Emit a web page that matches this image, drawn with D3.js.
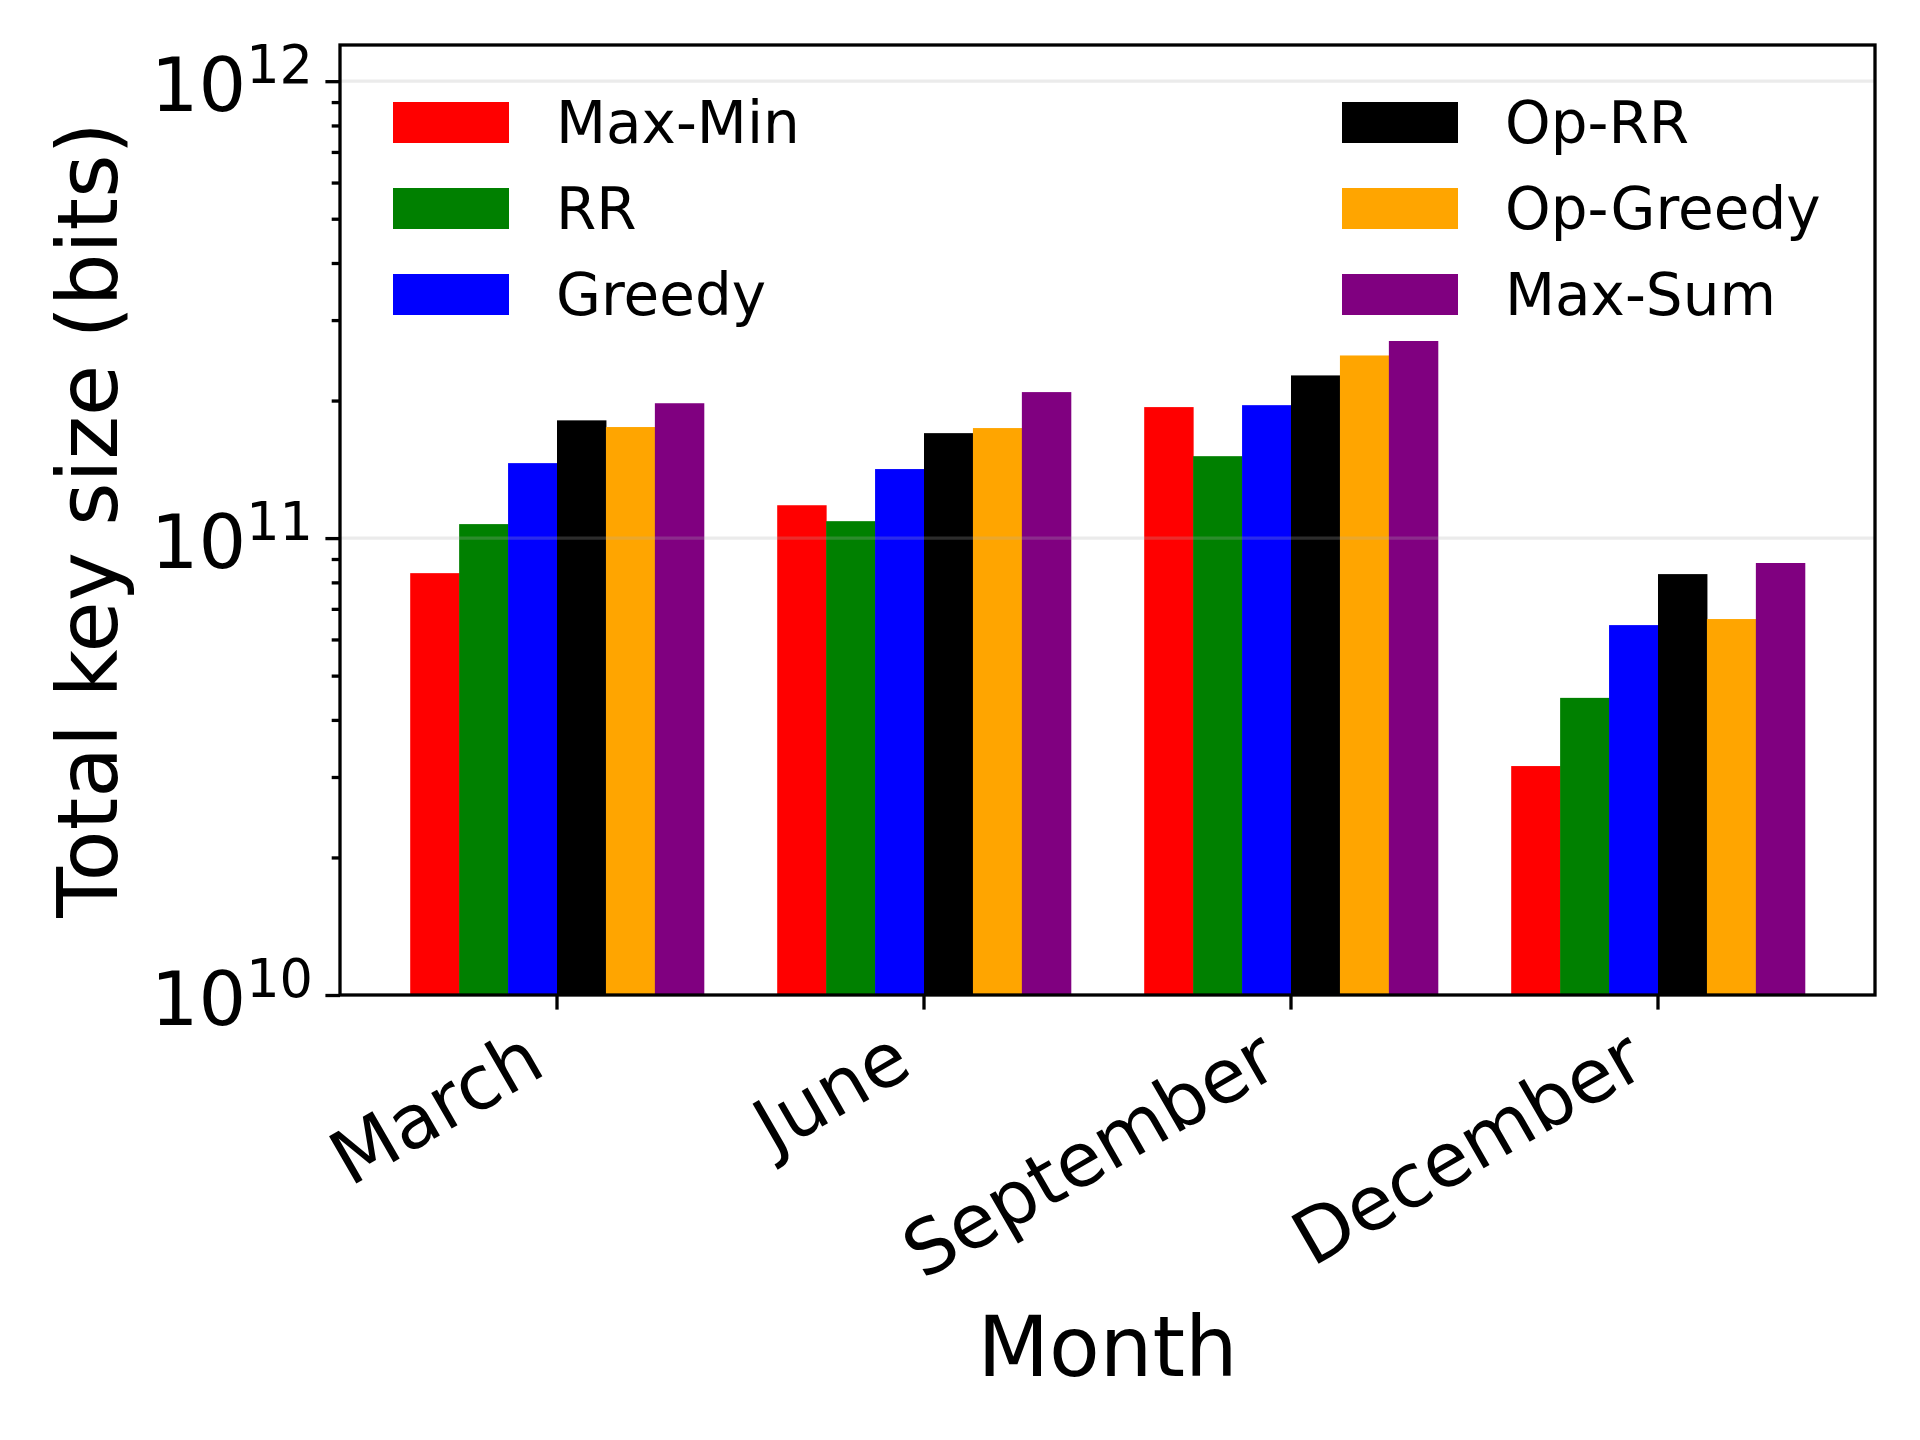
<!DOCTYPE html>
<html>
<head>
<meta charset="utf-8">
<script src="https://cdn.jsdelivr.net/npm/d3@7"></script>
<style>
  body { margin: 0; background: #fff; }
  svg { display: block; font-family: "DejaVu Sans", sans-serif; }
</style>
</head>
<body>
<div id="chart"></div>
<script>
// data
var months = ["March", "June", "September", "December"];
var series = ["Max-Min", "RR", "Greedy", "Op-RR", "Op-Greedy", "Max-Sum"];

var maxMin   = [8.38e10, 1.18e11, 1.935e11, 3.17e10];
var rr       = [1.073e11, 1.089e11, 1.511e11, 4.47e10];
var greedy   = [1.459e11, 1.416e11, 1.954e11, 6.45e10];
var opRR     = [1.81e11, 1.697e11, 2.27e11, 8.34e10];
var opGreedy = [1.75e11, 1.741e11, 2.51e11, 6.65e10];
var maxSum   = [1.973e11, 2.087e11, 2.70e11, 8.82e10];

var yMajor = [1e10, 1e11, 1e12];
var yExp = ["10", "11", "12"];

var values = [maxMin, rr, greedy, opRR, opGreedy, maxSum];
var colors = ["#ff0000", "#008000", "#0000ff", "#000000", "#ffa500", "#800080"];

var svgWidth = 1920;
var svgHeight = 1440;
var plot = { left: 340, right: 1875, top: 45, bottom: 995 };
var lw = 3.3;

var svg = d3.select("#chart")
  .append("svg")
  .attr("width", svgWidth)
  .attr("height", svgHeight);

// scales
var x0 = d3.scaleBand()
  .domain(months)
  .range([plot.left, plot.right])
  .paddingInner(0.2)
  .paddingOuter(0.1913);

var x1 = d3.scaleBand()
  .domain(series)
  .range([0, x0.bandwidth()]);

var y = d3.scaleLog()
  .domain([1e10, 1.2e12])
  .range([plot.bottom, plot.top]);

var color = d3.scaleOrdinal().domain(series).range(colors);

// bars
var rows = [];
months.forEach(function (m, i) {
  series.forEach(function (s, j) {
    rows.push({ month: m, name: s, value: values[j][i] });
  });
});

svg.append("g").selectAll("rect")
  .data(rows)
  .enter()
  .append("rect")
  .attr("x", d => x0(d.month) + x1(d.name))
  .attr("width", x1.bandwidth() + 0.5)
  .attr("y", d => y(d.value))
  .attr("height", d => plot.bottom - y(d.value))
  .attr("fill", d => color(d.name));

// grid over the bars (matplotlib draws it above patches)
svg.append("g").selectAll("line")
  .data(yMajor.slice(1))
  .enter()
  .append("line")
  .attr("x1", plot.left)
  .attr("x2", plot.right)
  .attr("y1", d => y(d))
  .attr("y2", d => y(d))
  .attr("stroke", "#b0b0b0")
  .attr("stroke-opacity", 0.25)
  .attr("stroke-width", lw);

// minor y ticks
var minor = [];
[1e10, 1e11].forEach(function (base) {
  for (var k = 2; k <= 9; k++) minor.push(base * k);
});

var yMinorAxis = svg.append("g")
  .attr("transform", `translate(${plot.left},0)`)
  .call(d3.axisLeft(y).tickValues(minor).tickSize(8.3).tickSizeOuter(0).tickFormat(""));
yMinorAxis.select(".domain").remove();
yMinorAxis.selectAll("line").attr("stroke", "#000").attr("stroke-width", lw);

// major y ticks with 10^n labels
var yAxis = svg.append("g")
  .attr("transform", `translate(${plot.left},0)`)
  .call(d3.axisLeft(y).tickValues(yMajor).tickSize(14.6).tickSizeOuter(0).tickFormat(""));
yAxis.select(".domain").remove();
yAxis.selectAll("line").attr("stroke", "#000").attr("stroke-width", lw);
yAxis.selectAll(".tick text").each(function (d, i) {
  var t = d3.select(this)
    .attr("x", -27)
    .attr("y", 29)
    .attr("dy", null)
    .attr("text-anchor", "end")
    .attr("fill", "#000")
    .style("font-size", "75px")
    .style("font-family", "'DejaVu Sans', sans-serif");
  t.append("tspan").text("10");
  t.append("tspan").attr("dy", -28).style("font-size", "52.5px").text(yExp[i]);
});

// x axis
var xAxis = svg.append("g")
  .attr("transform", `translate(0,${plot.bottom})`)
  .call(d3.axisBottom(x0).tickSize(14.6).tickSizeOuter(0));
xAxis.select(".domain").remove();
xAxis.selectAll("line").attr("stroke", "#000").attr("stroke-width", lw);
xAxis.selectAll(".tick text")
  .attr("x", 0)
  .attr("y", 0)
  .attr("dy", null)
  .attr("text-anchor", "end")
  .attr("fill", "#000")
  .attr("transform", "translate(-9,78) rotate(-30)")
  .style("font-size", "75px")
  .style("font-family", "'DejaVu Sans', sans-serif");

// frame
svg.append("rect")
  .attr("x", plot.left)
  .attr("y", plot.top)
  .attr("width", plot.right - plot.left)
  .attr("height", plot.bottom - plot.top)
  .attr("fill", "none")
  .attr("stroke", "#000")
  .attr("stroke-width", lw);

// axis titles
svg.append("text")
  .attr("x", (plot.left + plot.right) / 2)
  .attr("y", 1376)
  .attr("text-anchor", "middle")
  .style("font-size", "83px")
  .text("Month");

svg.append("text")
  .attr("transform", `translate(117,${(plot.top + plot.bottom) / 2}) rotate(-90)`)
  .attr("text-anchor", "middle")
  .style("font-size", "83px")
  .text("Total key size (bits)");

// legend, two columns of three
var legendCols = [393, 1342];
var legendRows = [102, 188, 274];

var legend = svg.append("g").selectAll("g")
  .data(series)
  .enter()
  .append("g")
  .attr("transform", (d, i) => `translate(${legendCols[Math.floor(i / 3)]},${legendRows[i % 3]})`);

legend.append("rect")
  .attr("width", 116)
  .attr("height", 41)
  .attr("fill", d => color(d));

legend.append("text")
  .attr("x", 163)
  .attr("y", 41)
  .style("font-size", "58px")
  .text(d => d);
</script>
</body>
</html>
